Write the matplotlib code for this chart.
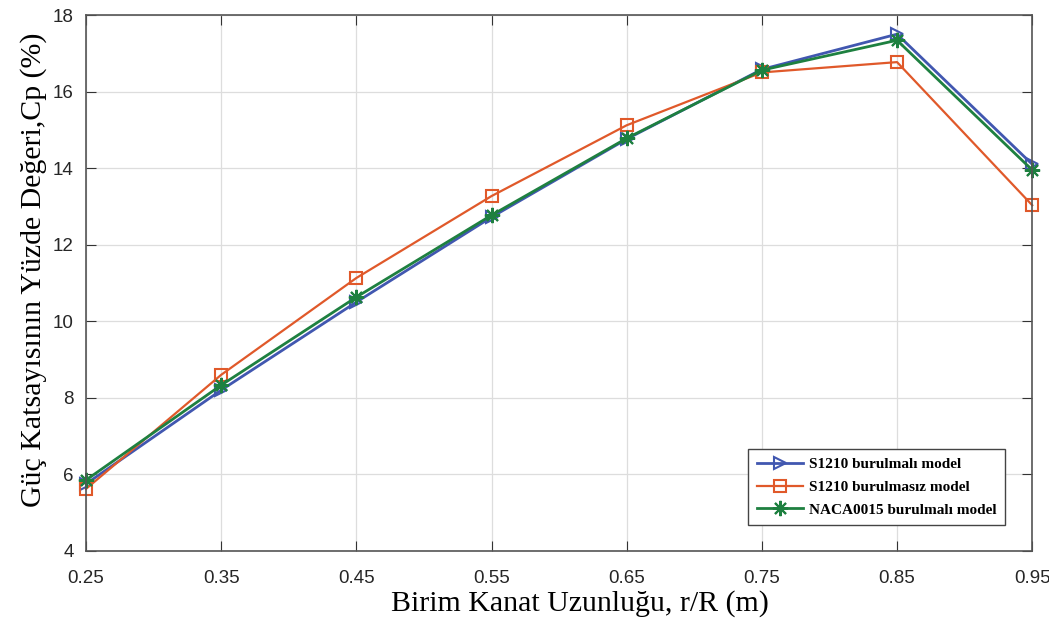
import matplotlib.pyplot as plt
import numpy as np

x = [0.25, 0.35, 0.45, 0.55, 0.65, 0.75, 0.85, 0.95]
s1210_burulmali = [5.75, 8.2, 10.5, 12.72, 14.76, 16.58, 17.5, 14.1]
s1210_burulmasiz = [5.62, 8.6, 11.13, 13.27, 15.12, 16.5, 16.77, 13.03]
naca0015_burulmali = [5.85, 8.33, 10.63, 12.77, 14.78, 16.56, 17.34, 13.95]

fig = plt.figure(figsize=(10.49, 6.26), dpi=100)
ax = fig.add_axes([0.082, 0.12, 0.902, 0.856])

ax.plot(x, s1210_burulmali, color='#4157b0', marker='>', markersize=8, clip_on=False,
        markerfacecolor='none', markeredgewidth=1.5, lw=2, label='S1210 burulmalı model')
ax.plot(x, s1210_burulmasiz, color='#e0592a', marker='s', markersize=8, clip_on=False,
        markerfacecolor='none', markeredgewidth=1.5, lw=1.6, label='S1210 burulmasız model')
ax.plot(x, naca0015_burulmali, color='#1e8040', marker=(8, 2, 0), markersize=11, clip_on=False,
        markeredgewidth=1.5, lw=2, label='NACA0015 burulmalı model')

ax.set_xlim(0.25, 0.95)
ax.set_ylim(4, 18)
ax.set_xticks(x)
ax.set_xticklabels(['0.25', '0.35', '0.45', '0.55', '0.65', '0.75', '0.85', '0.95'])
ax.set_yticks(np.arange(4, 19, 2))
ax.tick_params(direction='in', length=7, labelsize=13.5, colors='#333333', top=True, right=True,
               labeltop=False, labelright=False)
ax.tick_params(axis='x', pad=14)
ax.tick_params(axis='y', pad=9)
for lab in ax.get_xticklabels() + ax.get_yticklabels():
    lab.set_family('Liberation Sans')
    lab.set_color('#262626')
ax.grid(True, color='#dddddd', lw=0.9)
for sp in ax.spines.values():
    sp.set_color('#555555')
    sp.set_linewidth(1.2)

ax.set_xlabel('Birim Kanat Uzunluğu, r/R (m)', family='Liberation Serif', fontsize=21.5,
              labelpad=2, x=0.522)
ax.set_ylabel('Güç Katsayısının Yüzde Değeri,Cp (%)', family='Liberation Serif', fontsize=21.5,
              labelpad=4, y=0.524)

leg = ax.legend(loc='lower right', bbox_to_anchor=(0.971, 0.048), borderaxespad=0,
                prop={'family': 'Liberation Serif', 'weight': 'bold', 'size': 11},
                fancybox=False, edgecolor='#444444', framealpha=1, handlelength=3,
                borderpad=0.55, labelspacing=0.6, handletextpad=0.4)
leg.get_frame().set_linewidth(1.0)

fig.savefig('out.png', dpi=100)
